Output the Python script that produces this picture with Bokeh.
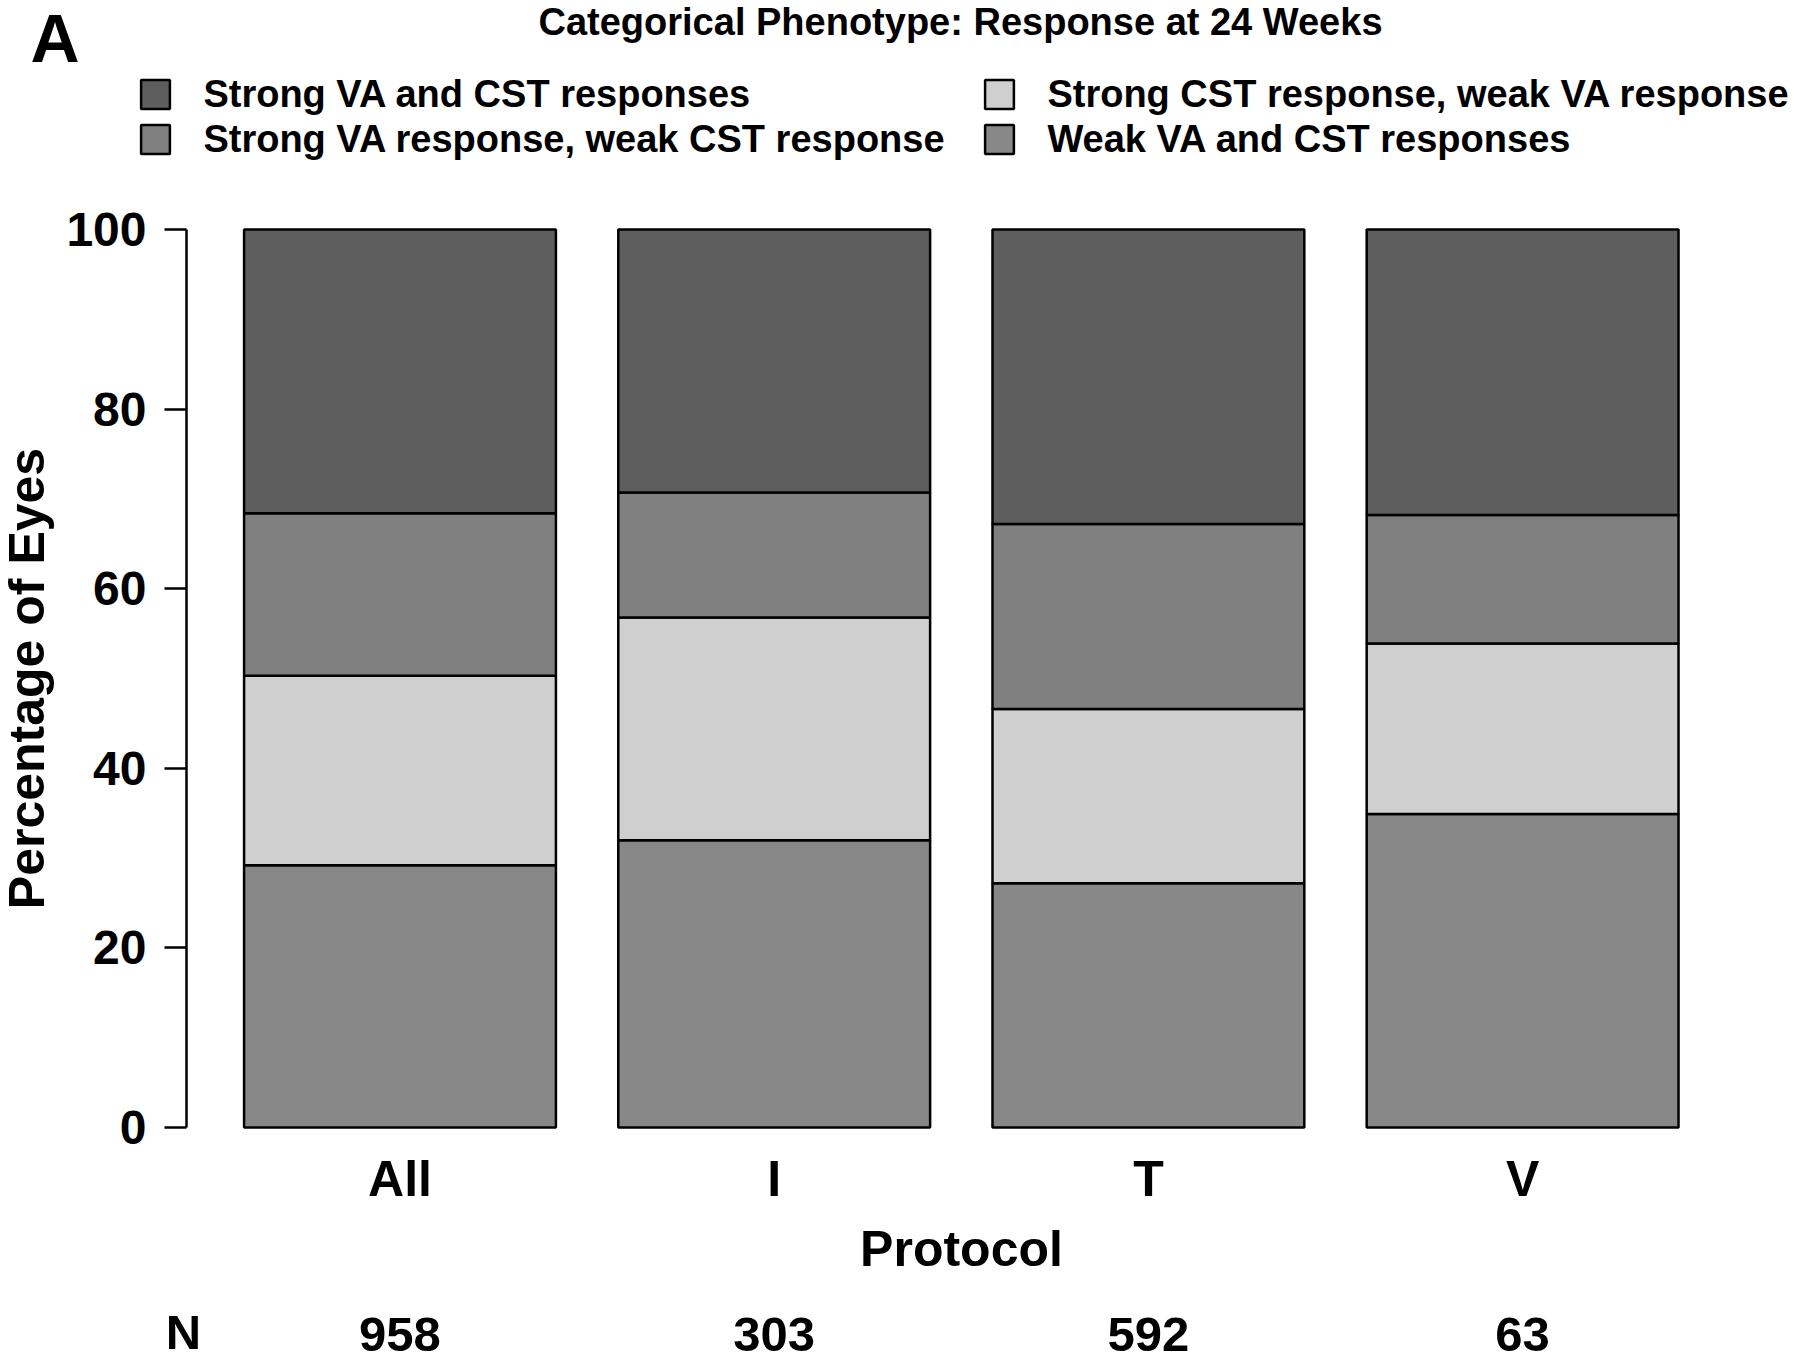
from bokeh.plotting import figure
from bokeh.models import (Range1d, FixedTicker, Legend, LegendItem,
                          Label, LabelSet, ColumnDataSource)
from bokeh.core.properties import value
from bokeh.embed import file_html
from bokeh.resources import INLINE

# ---------------- data ----------------
protocols = ["All", "I", "T", "V"]
n_eyes = [958, 303, 592, 63]
weak_both = [29.2, 32.0, 27.2, 34.9]      # Weak VA and CST responses (bottom)
strong_cst = [21.1, 24.8, 19.4, 19.0]     # Strong CST response, weak VA response
strong_va = [18.1, 13.9, 20.6, 14.3]      # Strong VA response, weak CST response
strong_both = [31.6, 29.3, 32.8, 31.8]    # Strong VA and CST responses (top)
y_ticks = [0, 20, 40, 60, 80, 100]

series_keys = ["weak", "cst", "va", "both"]
series_names = ["Weak VA and CST responses",
                "Strong CST response, weak VA response",
                "Strong VA response, weak CST response",
                "Strong VA and CST responses"]
series_colors = ["#888888", "#cfcfcf", "#808080", "#5e5e5e"]

# ---------------- layout (pixels) ----------------
FONT = "Liberation Sans"
W, H = 1800, 1361
BAR1_PX, STEP_PX = 399.5, 374.2     # first bar centre, bar-to-bar spacing
Y100_PX, Y0_PX = 229.0, 1127.0      # canvas rows of y=100 and y=0
BAR_W = 1 / 1.2

x_pos = [i + 1 for i in range(len(protocols))]
x_start = 1 - BAR1_PX / STEP_PX
x_end = x_start + W / STEP_PX
ppu = (Y0_PX - Y100_PX) / 100.0
y_end = 100 + Y100_PX / ppu
y_start = -(H - Y0_PX) / ppu

src = ColumnDataSource(dict(x=x_pos, protocol=protocols, weak=weak_both,
                            cst=strong_cst, va=strong_va, both=strong_both))

p = figure(width=W, height=H, title=None,
           x_range=Range1d(x_start, x_end), y_range=Range1d(y_start, y_end),
           output_backend="svg", toolbar_location=None,
           min_border_left=0, min_border_right=0,
           min_border_top=0, min_border_bottom=0)
p.outline_line_color = None
p.xgrid.visible = False
p.ygrid.visible = False
p.background_fill_color = "white"
p.border_fill_color = "white"

rs = p.vbar_stack(series_keys, x="x", width=BAR_W, source=src,
                  fill_color=series_colors, line_color="black", line_width=2.5)

# y axis (drawn at a fixed spot left of the bars)
ya = p.yaxis[0]
ya.fixed_location = x_start + 186 / STEP_PX
ya.bounds = (0, 100)
ya.ticker = FixedTicker(ticks=y_ticks)
ya.minor_tick_line_color = None
ya.major_tick_in = 0
ya.major_tick_out = 22
ya.major_tick_line_width = 2.5
ya.major_tick_line_color = "black"
ya.axis_line_width = 2.5
ya.axis_line_color = "black"
ya.major_label_standoff = 18
ya.major_label_text_font = FONT
ya.major_label_text_font_style = "bold"
ya.major_label_text_font_size = "48px"
ya.major_label_text_color = "black"
ya.axis_label = "Percentage of Eyes"
ya.axis_label_text_font = FONT
ya.axis_label_text_font_style = "bold"
ya.axis_label_text_font_size = "50px"
ya.axis_label_text_color = "black"
ya.axis_label_standoff = 8

# x axis (category names + "Protocol")
xa = p.xaxis[0]
xa.fixed_location = 0
xa.bounds = (x_pos[0] - BAR_W / 2, x_pos[-1] + BAR_W / 2)
xa.ticker = FixedTicker(ticks=x_pos)
xa.major_label_overrides = {x: name for x, name in zip(x_pos, protocols)}
xa.axis_line_color = None
xa.major_tick_line_color = None
xa.minor_tick_line_color = None
xa.major_tick_out = 0
xa.major_tick_in = 0
xa.major_label_standoff = 23
xa.major_label_text_font = FONT
xa.major_label_text_font_style = "bold"
xa.major_label_text_font_size = "50px"
xa.major_label_text_color = "black"
xa.axis_label = "Protocol"
xa.axis_label_text_font = FONT
xa.axis_label_text_font_style = "bold"
xa.axis_label_text_font_size = "50px"
xa.axis_label_text_color = "black"
xa.axis_label_standoff = 11

# legend (2 columns above the plot); legend swatch = 80% of glyph box
GW = 36.25
order = [3, 2, 1, 0]
items = [LegendItem(label=series_names[i], renderers=[rs[i]]) for i in order]
legend = Legend(items=items, ncols=2, orientation="vertical",
                location=(141 - 0.1 * GW, H - 161.5),
                glyph_width=int(round(GW)), glyph_height=int(round(GW)),
                label_standoff=30, label_height=45, label_width=778,
                spacing=0, padding=0, margin=0,
                label_text_font=FONT, label_text_font_style="bold",
                label_text_font_size="38px", label_text_color="black",
                border_line_color=None, background_fill_alpha=0)
p.add_layout(legend, "center")

# title and panel letter (Label draws ~0.385 em below the given baseline)
p.add_layout(Label(x=960, y=H - 21.5, x_units="screen", y_units="screen",
                   text="Categorical Phenotype: Response at 24 Weeks",
                   text_align="center", text_baseline="alphabetic",
                   text_font=FONT, text_font_style="bold", text_font_size="38px",
                   text_color="black"))
p.add_layout(Label(x=30, y=H - 37, x_units="screen", y_units="screen",
                   text="A", text_align="left", text_baseline="alphabetic",
                   text_font=FONT, text_font_style="bold", text_font_size="68px",
                   text_color="black"))

# N row
p.add_layout(Label(x=183, y=H - 1331, x_units="screen", y_units="screen",
                   text="N", text_align="center", text_baseline="alphabetic",
                   text_font=FONT, text_font_style="bold", text_font_size="49px",
                   text_color="black"))
nsrc = ColumnDataSource(dict(x=x_pos, n=[str(v) for v in n_eyes]))
p.add_layout(LabelSet(x="x", y=H - 1350, y_units="screen", text="n",
                      source=nsrc, text_align="center", text_baseline="alphabetic",
                      text_font=value(FONT), text_font_style="bold",
                      text_font_size="49px", text_color="black"))

open("out.html", "w").write(file_html(p, INLINE))
